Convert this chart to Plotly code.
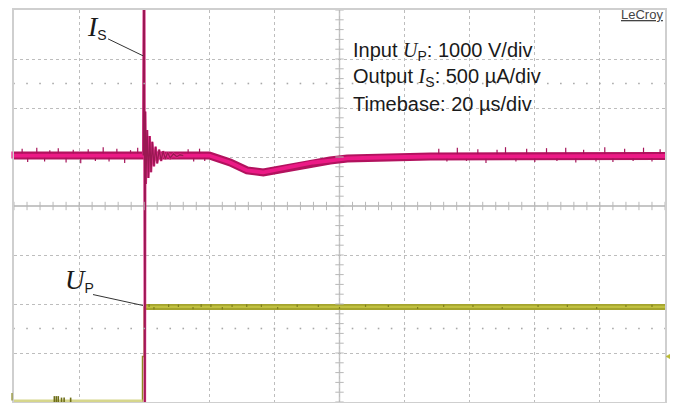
import numpy as np
import plotly.graph_objects as go

# ---------------- data ----------------
# time axis: 20 µs/div, 10 div, trigger at 2nd division
t_range = [-40, 160]
t_div = 20
# vertical: 8 divisions
y_range = [-4, 4]

# Output current I_S (µA, relative to its baseline), 500 µA/div
is_t = [-40, -0.3, 0.0, 0.2, 0.35, 0.5, 0.9, 1.3, 1.7, 2.1, 2.5, 3.0, 3.5, 4.0,
        4.6, 5.2, 5.8, 6.5, 7.2, 8.0, 9.0, 10.0, 11.0, 12.0, 20.0, 26.4, 31.6,
        36.6, 41.8, 47.0, 51.9, 57.1, 62.4, 72.5, 87.9, 160]
is_ua = [0, 0, 3000, -3000, 450, -290, 260, -230, 200, -170, 140, -110, 90, -80,
         60, -55, 45, -35, 30, -25, 18, -12, 8, 0, 0, -71, -152,
         -172, -141, -101, -71, -51, -30, -20, -10, -5]
is_scale = 500      # µA/div
is_offset = 1.03    # div

# noise glitches on the flat parts of I_S (time µs, excursion µA)
is_glitch_t = [-37.5, -35.8, -33.0, -30.6, -29.0, -26.4, -24.0, -21.8, -19.5,
               -17.2, -15.0, -12.6, -10.8, -8.4, -6.0, -4.2, -2.0,
               13.5, 15.2, 17.0, 18.6,
               90.5, 93.0, 96.2, 99.0, 102.5, 105.0, 108.4, 111.0, 114.2,
               117.5, 120.0, 123.6, 126.8, 129.5, 132.6, 135.0, 138.8, 141.5,
               144.0, 147.6, 150.2, 153.4, 156.0, 158.5]
is_glitch_ua = [70, -65, 80, -60, 55, 75, -70, 60, -80, 65, -55, 85, -60, 70,
                -75, 55, 80,
                65, -60, 70, -55,
                70, -60, 80, -55, 65, -75, 60, 85, -60,
                70, -65, 75, -55, 80, -70, 60, -60, 85,
                -65, 70, -55, 80, -60, 65]

# Input voltage U_P (V), 1000 V/div
up_t = [-40, -0.5, -0.5, 0.0, 0.0, 160]
up_v = [0, 0, 910, 910, 1920, 1920]
up_scale = 1000     # V/div
up_offset = -3.98   # div
trig_level_v = 910

# dark speckles on U_P after the step (time µs, excursion V)
up_glitch_t = [1.5, 3.0, 7.5, 10.5, 15.0, 17.5, 20.5, 24.0, 27.0, 31.5, 36.0,
               41.0, 47.0, 53.5, 60.0, 68.0, 75.0, 84.0, 92.0, 101.0, 110.0,
               121.0, 130.0, 139.0, 148.0, 156.0]
up_glitch_v = [60, -50, 55, 50, -45, 60, 55, -50, 45, 55, 50,
               -45, 50, 45, -40, 45, 40, -40, 45, 40, -40,
               40, 45, -40, 40, 45]
# dark speckles on the pre-trigger U_P baseline
up_pre_glitch_t = [-27.6, -27.0, -26.4, -25.4, -24.6, -22.6]
up_pre_glitch_v = [120, 120, 120, 90, 90, 90]

# ---------------- derived ----------------
ist = np.array(is_t, float)
isa = np.array(is_ua, float)
isy = is_offset + isa / is_scale
upt = np.array(up_t, float)
upv = np.array(up_v, float)
upy = up_offset + upv / up_scale

ring_lo, ring_hi = -0.3, 12.0
band_sel = (ist <= ring_lo) | (ist >= ring_hi)
ring_sel = (ist >= ring_lo) & (ist <= ring_hi)


def segs(ts, base, amps):
    xs, ys = [], []
    for t, a in zip(ts, amps):
        xs += [t, t, None]
        ys += [base, base + a, None]
    return xs, ys


fig = go.Figure()

# ---- U_P ----
fig.add_trace(go.Scatter(x=upt, y=upy, mode="lines",
                         line=dict(color="#8a8a24", width=1.6), hoverinfo="skip"))
pre = (upt < 0) & (upv == 0)
fig.add_trace(go.Scatter(x=upt[pre], y=upy[pre], mode="lines",
                         line=dict(color="#d6d68c", width=3), hoverinfo="skip"))
gx, gy = segs(up_pre_glitch_t, y_range[0], np.array(up_pre_glitch_v) / up_scale)
fig.add_trace(go.Scatter(x=gx, y=gy, mode="lines",
                         line=dict(color="#6e6e18", width=1.6), hoverinfo="skip"))
post = (upt >= 0) & (upv == upv.max())
fig.add_trace(go.Scatter(x=upt[post], y=upy[post], mode="lines",
                         line=dict(color="#a4a42e", width=6), hoverinfo="skip"))
fig.add_trace(go.Scatter(x=upt[post], y=upy[post], mode="lines",
                         line=dict(color="#c0c040", width=2.2), hoverinfo="skip"))
gx, gy = segs(up_glitch_t, up_offset + upv.max() / up_scale,
              np.array(up_glitch_v) / up_scale)
fig.add_trace(go.Scatter(x=gx, y=gy, mode="lines",
                         line=dict(color="#7e7e1e", width=1.2), hoverinfo="skip"))

# ---- I_S ----
fig.add_trace(go.Scatter(x=ist[band_sel], y=isy[band_sel], mode="lines",
                         line=dict(color="#b2125e", width=8), hoverinfo="skip"))
gx, gy = segs(is_glitch_t, is_offset, np.array(is_glitch_ua) / is_scale)
fig.add_trace(go.Scatter(x=gx, y=gy, mode="lines",
                         line=dict(color="#a5145a", width=1.2), hoverinfo="skip"))
fig.add_trace(go.Scatter(x=ist[band_sel], y=isy[band_sel], mode="lines",
                         line=dict(color="#ec1a86", width=3.8), hoverinfo="skip"))
fig.add_trace(go.Scatter(x=ist[ring_sel], y=isy[ring_sel], mode="lines",
                         line=dict(color="#e0308a", width=2.4), hoverinfo="skip"))
fig.add_trace(go.Scatter(x=ist[ring_sel], y=isy[ring_sel], mode="lines",
                         line=dict(color="#9a1852", width=1.3), hoverinfo="skip"))

# ---- center axis ticks and sub-division dots ----
cx = (t_range[0] + t_range[1]) / 2
xt = np.arange(t_range[0], t_range[1] + 0.01, t_div / 5)
yt = np.arange(y_range[0], y_range[1] + 0.01, 0.2)
fig.add_trace(go.Scatter(x=xt, y=np.zeros_like(xt), mode="markers",
                         marker=dict(symbol="line-ns", size=6,
                                     line=dict(color="#b8b8b8", width=1)),
                         hoverinfo="skip"))
fig.add_trace(go.Scatter(x=np.full_like(yt, cx), y=yt, mode="markers",
                         marker=dict(symbol="line-ew", size=6,
                                     line=dict(color="#b8b8b8", width=1)),
                         hoverinfo="skip"))
for yy in (2.5, -2.5):
    fig.add_trace(go.Scatter(x=xt, y=np.full_like(xt, yy), mode="markers",
                             marker=dict(symbol="square", size=1.6, color="#a8a8a8"),
                             hoverinfo="skip"))

# page has an 8 px body margin: size the figure so it fits the 678x403 window
W, H = 670, 395
L, R, T, B = 6, 13, 0, 1
# plot box in window (screen) pixels
SX0, SX1, SY0, SY1 = 14, 665, 8, 402
div_px = (SY1 - SY0) / (y_range[1] - y_range[0])


def px(x):
    return (x - SX0) / (SX1 - SX0)


def py(y):
    return (SY1 - y) / (SY1 - SY0)


def ydiv_to_paper(v):
    return (v - y_range[0]) / (y_range[1] - y_range[0])


SERIF = "font-family:'Liberation Serif'"
ann = []
txt_font = dict(family="Liberation Sans, Arial", size=20, color="#1a1a1a")
lines = [
    f"Input <span style=\"{SERIF}\"><i>U</i></span><sub>P</sub>: 1000 V/div",
    f"Output <span style=\"{SERIF}\"><i>I</i></span><sub>S</sub>: 500 µA/div",
    "Timebase: 20 µs/div",
]
for i, s in enumerate(lines):
    ann.append(dict(x=px(351), y=py(50 + 26 * i), xref="paper", yref="paper",
                    text=s, showarrow=False, xanchor="left", yanchor="middle",
                    font=txt_font))
ann.append(dict(x=px(665), y=py(13), xref="paper", yref="paper",
                text="<u>LeCroy</u>", showarrow=False, xanchor="right",
                yanchor="middle",
                font=dict(family="Liberation Sans, Arial", size=13, color="#444")))
lab_font = dict(family="Liberation Sans, Arial", size=20, color="#1a1a1a")
ann.append(dict(x=px(85), y=py(25), xref="paper", yref="paper",
                text=f"<span style=\"{SERIF};font-size:28px\"><i>I</i></span><sub>S</sub>",
                showarrow=False, xanchor="left", yanchor="middle", font=lab_font))
ann.append(dict(x=px(63), y=py(280), xref="paper", yref="paper",
                text=f"<span style=\"{SERIF};font-size:27px\"><i>U</i></span><sub>P</sub>",
                showarrow=False, xanchor="left", yanchor="middle", font=lab_font))

trig_p = ydiv_to_paper(up_offset + trig_level_v / up_scale)
is0_p = ydiv_to_paper(is_offset)
up0_p = ydiv_to_paper(up_offset)
hp = 4 / (SY1 - SY0)
shapes = [
    dict(type="line", xref="x", yref="paper", x0=cx, x1=cx, y0=0, y1=1,
         line=dict(color="#c6c6c6", width=1.5), layer="below"),
    dict(type="line", xref="paper", yref="paper", x0=px(108), y0=py(37),
         x1=px(143), y1=py(54), line=dict(color="#333333", width=1)),
    dict(type="line", xref="paper", yref="paper", x0=px(93), y0=py(294),
         x1=px(143), y1=py(305), line=dict(color="#333333", width=1)),
    # trigger-level marker on the right edge
    dict(type="path", xref="paper", yref="paper",
         path=(f"M {px(666)} {trig_p} L {px(673)} {trig_p + hp} "
               f"L {px(673)} {trig_p - hp} Z"),
         fillcolor="#b9b932", line=dict(color="#b9b932", width=0.5)),
    # channel zero markers on the left edge
    dict(type="line", xref="paper", yref="paper", x0=px(12), x1=px(12),
         y0=is0_p - 0.75 * hp, y1=is0_p + hp,
         line=dict(color="#ec1a86", width=1.2)),
    dict(type="line", xref="paper", yref="paper", x0=px(12), x1=px(12),
         y0=up0_p + 0.1 * hp, y1=up0_p + 2 * hp,
         line=dict(color="#8a8a24", width=1.2)),
]

fig.update_layout(
    width=W, height=H, margin=dict(l=L, r=R, t=T, b=B),
    paper_bgcolor="white", plot_bgcolor="white", showlegend=False,
    annotations=ann, shapes=shapes,
    xaxis=dict(range=t_range, dtick=t_div, tick0=t_range[0], showgrid=True,
               gridcolor="#bdbdbd", griddash="dot", gridwidth=1,
               showticklabels=False, ticks="", zeroline=False,
               showline=True, mirror=True, linecolor="#cfcfcf", linewidth=2,
               fixedrange=True),
    yaxis=dict(range=y_range, dtick=1, tick0=y_range[0], showgrid=True,
               gridcolor="#bdbdbd", griddash="dot", gridwidth=1,
               showticklabels=False, ticks="", zeroline=True,
               zerolinecolor="#c6c6c6", zerolinewidth=1.5,
               showline=True, mirror=True, linecolor="#cfcfcf", linewidth=2,
               fixedrange=True),
)

fig.write_html("out.html")
